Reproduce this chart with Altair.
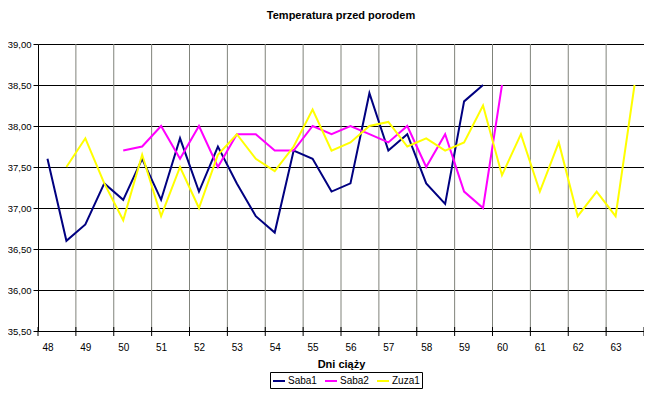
import altair as alt
import pandas as pd

# half-day measurement positions (2 readings per day)
days = [48 + i / 2 for i in range(32)]
day_labels = list(range(48, 64))
y_ticks = [35.5, 36.0, 36.5, 37.0, 37.5, 38.0, 38.5, 39.0]

saba1 = [37.6, 36.6, 36.8, 37.3, 37.1, 37.6, 37.1, 37.85, 37.2, 37.75, 37.3, 36.9,
         36.7, 37.7, 37.6, 37.2, 37.3, 38.4, 37.7, 37.9, 37.3, 37.05, 38.3, 38.5] + [None] * 8
saba2 = [None] * 4 + [37.7, 37.75, 38.0, 37.6, 38.0, 37.5, 37.9, 37.9, 37.7, 37.7, 38.0,
                      37.9, 38.0, 37.9, 37.8, 38.0, 37.5, 37.9, 37.2, 37.0, 38.5] + [None] * 7
zuza1 = [None] + [37.5, 37.85, 37.3, 36.85, 37.65, 36.9, 37.5, 37.0, 37.65, 37.9, 37.6,
                  37.45, 37.75, 38.2, 37.7, 37.8, 38.0, 38.05, 37.75, 37.85, 37.7, 37.8,
                  38.25, 37.4, 37.9, 37.2, 37.8, 36.9, 37.2, 36.9, 38.5]

series_names = ["Saba1", "Saba2", "Zuza1"]
series_colors = ["#000080", "#FF00FF", "#FFFF00"]

rows = []
for name, vals in zip(series_names, [saba1, saba2, zuza1]):
    for d, v in zip(days, vals):
        if v is not None:
            rows.append({"day": d, "temp": v, "series": name})
df = pd.DataFrame(rows)

bounds = pd.DataFrame({"day": [d + 0.75 for d in day_labels[:-1]]})
bounds_all = pd.DataFrame({"day": [47.75] + [d + 0.75 for d in day_labels]})

FONT = "Liberation Sans"
xscale = alt.Scale(domain=[47.75, 63.75], nice=False, zero=False)
xaxis = alt.Axis(values=day_labels, format="d", ticks=False, grid=False,
                 domainColor="black", labelFontSize=10, labelPadding=11,
                 title="Dni ciąży", titleFontSize=11, titleFontWeight="bold",
                 titlePadding=6, labelColor="black", titleColor="black", labelFont=FONT,
                 titleFont=FONT)

vgrid = alt.Chart(bounds).mark_rule(color="#80837B", strokeWidth=1).encode(
    x=alt.X("day:Q", scale=xscale, axis=xaxis)
)

xticks = alt.Chart(bounds_all).mark_rule(color="black", strokeWidth=1).encode(
    x=alt.X("day:Q", scale=xscale, axis=xaxis),
    y=alt.value(283), y2=alt.value(292)
)

lines = alt.Chart(df).mark_line(strokeWidth=2).encode(
    x=alt.X("day:Q", scale=xscale, axis=xaxis),
    y=alt.Y("temp:Q", scale=alt.Scale(domain=[35.5, 39.0], nice=False, zero=False),
            axis=alt.Axis(values=y_ticks,
                          labelExpr="replace(format(datum.value, '.2f'), '.', ',')",
                          gridColor="black", gridOpacity=1, gridWidth=1,
                          tickColor="black", tickSize=5, domainColor="black",
                          labelFontSize=9.5, labelColor="black", labelFont=FONT,
                          labelPadding=2, title=None)),
    color=alt.Color("series:N",
                    scale=alt.Scale(domain=series_names, range=series_colors),
                    legend=alt.Legend(orient="none", legendX=232, legendY=328,
                                      direction="horizontal", title=None,
                                      symbolType="stroke", symbolStrokeWidth=2,
                                      symbolSize=144, labelFontSize=10,
                                      labelFont=FONT, labelColor="black",
                                      labelOffset=2, columnPadding=4,
                                      padding=2, strokeColor="black",
                                      fillColor="white")),
    order="day:Q",
)

chart = alt.layer(vgrid, xticks, lines).properties(
    width=606, height=287,
    title=alt.TitleParams("Temperatura przed porodem", fontSize=11,
                          fontWeight="bold", font=FONT, anchor="middle",
                          offset=18, color="black"),
    autosize=alt.AutoSizeParams(type="none"),
    padding={"left": 30, "top": 36, "right": 0, "bottom": 58},
).configure_view(fill="#B3B6AB", stroke="#80837B", strokeWidth=1
).configure(background="white")

chart.save("out.html", embed_options={"renderer": "svg", "actions": False})
